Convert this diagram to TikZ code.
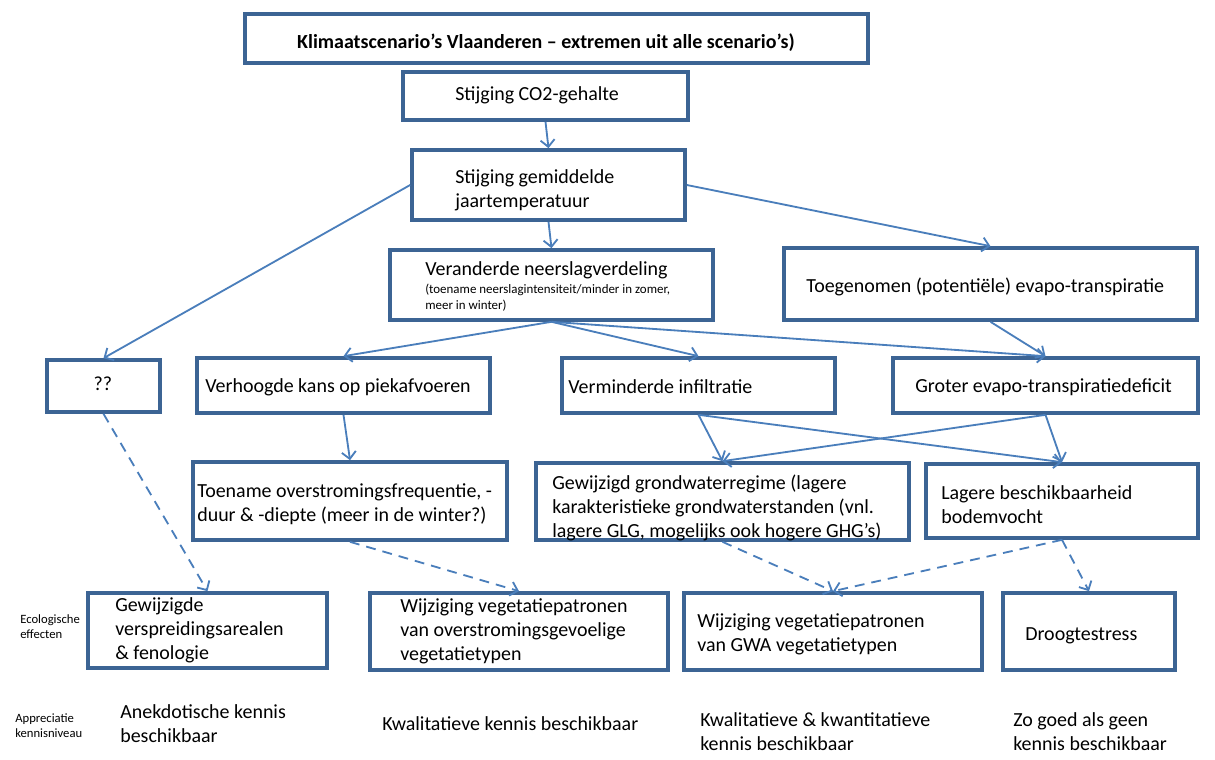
\documentclass[tikz,border=0pt]{standalone}
\usepackage{fontspec}
\setmainfont{Carlito}
\usepackage{tikz}
\usetikzlibrary{arrows.meta, positioning, fit}
\definecolor{klimaframe}{HTML}{3C6494}
\definecolor{klimaline}{HTML}{4A7EBB}
\tikzset{
  kbox/.style={draw=klimaframe, line width=2.6pt, inner sep=0pt, rectangle},
  ktxt/.style={anchor=west, align=left, inner sep=0pt, font=\fontsize{14.2}{17}\selectfont},
  ksmall/.style={anchor=west, align=left, inner sep=0pt, font=\fontsize{9.2}{11.3}\selectfont},
  karr/.style={draw=klimaline, line width=1.3pt, -{Straight Barb[length=5pt, width=10pt]}},
  kdash/.style={karr, dash pattern=on 7pt off 5pt},
}
\begin{document}
\begin{tikzpicture}[x=0.025cm, y=-0.025cm]
    \useasboundingbox (0,0) rectangle (1215,760);

    % Top of the chain
    \node[kbox, fit={(245,14) (868,63)}] (titel) {};
    \node[ktxt, anchor=center, font=\fontsize{14.2}{17}\selectfont\bfseries] (titelT) at (546,43) {Klimaatscenario’s Vlaanderen – extremen uit alle scenario’s)};

    \node[kbox, fit={(403,72) (688,120)}] (co2) {};
    \node[ktxt] (co2T) at (455,95) {Stijging CO2-gehalte};

    \node[kbox, fit={(412,150) (685,220)}] (temp) {};
    \node[ktxt] (tempT) at (455,190) {Stijging gemiddelde\\jaartemperatuur};

    \node[kbox, fit={(390,250) (713,320)}] (neer) {};
    \node[ktxt] (neerT) at (425,270) {Veranderde neerslagverdeling};
    \node[ksmall] (neerS) at (425,298) {(toename neerslagintensiteit/minder in zomer,\\meer in winter)};

    \node[kbox, fit={(784,248) (1197,320)}] (toeg) {};
    \node[ktxt] (toegT) at (806,287) {Toegenomen (potentiële) evapo-transpiratie};

    % Second row
    \node[kbox, fit={(47,360) (160,412)}] (vraag) {};
    \node[ktxt, anchor=center] (vraagT) at (103,384) {??};

    \node[kbox, fit={(197,358) (490,413)}] (piek) {};
    \node[ktxt] (piekT) at (205,387) {Verhoogde kans op piekafvoeren};

    \node[kbox, fit={(562,358) (835,413)}] (infil) {};
    \node[ktxt] (infilT) at (568,387) {Verminderde infiltratie};

    \node[kbox, fit={(893,358) (1198,413)}] (defic) {};
    \node[ktxt] (deficT) at (915,387) {Groter evapo-transpiratiedeficit};

    % Third row
    \node[kbox, fit={(193,462) (507,540)}] (overst) {};
    \node[ktxt] (overstT) at (197,504) {Toename overstromingsfrequentie, -\\duur \& -diepte (meer in de winter?)};

    \node[kbox, fit={(536,463) (909,540)}] (grondw) {};
    \node[ktxt] (grondwT) at (552,508) {Gewijzigd grondwaterregime (lagere\\karakteristieke grondwaterstanden (vnl.\\lagere GLG, mogelijks ook hogere GHG’s)};

    \node[kbox, fit={(926,464) (1198,538)}] (bodem) {};
    \node[ktxt] (bodemT) at (941,505) {Lagere beschikbaarheid\\bodemvocht};

    % Ecologische effecten
    \node[kbox, fit={(88,593) (327,668)}] (areaal) {};
    \node[ktxt] (areaalT) at (115,630) {Gewijzigde\\verspreidingsarealen\\\& fenologie};

    \node[kbox, fit={(370,593) (668,670)}] (vegov) {};
    \node[ktxt] (vegovT) at (400,631) {Wijziging vegetatiepatronen\\van overstromingsgevoelige\\vegetatietypen};

    \node[kbox, fit={(684,593) (982,670)}] (veggwa) {};
    \node[ktxt] (veggwaT) at (697,634) {Wijziging vegetatiepatronen\\van GWA vegetatietypen};

    \node[kbox, fit={(1003,593) (1175,670)}] (droog) {};
    \node[ktxt] (droogT) at (1025,636) {Droogtestress};

    % Side labels and kennisniveau
    \node[ksmall, font=\fontsize{9}{10.5}\selectfont] (ecoL) at (20,627) {Ecologische\\effecten};
    \node[ksmall, font=\fontsize{9}{10.5}\selectfont] (apprL) at (15,726) {Appreciatie\\kennisniveau};
    \node[ktxt] (kenA) at (120,724) {Anekdotische kennis\\beschikbaar};
    \node[ktxt] (kenB) at (382,724) {Kwalitatieve kennis beschikbaar};
    \node[ktxt] (kenC) at (700,732) {Kwalitatieve \& kwantitatieve\\kennis beschikbaar};
    \node[ktxt] (kenD) at (1013,732) {Zo goed als geen\\kennis beschikbaar};

    % Solid arrows
    \draw[karr] (co2.south) -- (temp.north);
    \draw[karr] (temp.south) -- (neer.north);
    \draw[karr] (temp.west) -- (vraag.north);
    \draw[karr] (temp.east) -- (toeg.north);
    \draw[karr] (neer.south) -- (piek.north);
    \draw[karr] (neer.south) -- (infil.north);
    \draw[karr] (neer.south) -- (defic.north);
    \draw[karr] (toeg.south) -- (defic.north);
    \draw[karr] (piek.south) -- (overst.north);
    \draw[karr] (infil.south) -- (grondw.north);
    \draw[karr] (infil.south) -- (bodem.north);
    \draw[karr] (defic.south) -- (grondw.north);
    \draw[karr] (defic.south) -- (bodem.north);

    % Dashed arrows
    \draw[kdash] (vraag.south) -- (areaal.north);
    \draw[kdash] (overst.south) -- (vegov.north);
    \draw[kdash] (grondw.south) -- (veggwa.north);
    \draw[kdash] (bodem.south) -- (veggwa.north);
    \draw[kdash] (bodem.south) -- (droog.north);
\end{tikzpicture}
\end{document}
